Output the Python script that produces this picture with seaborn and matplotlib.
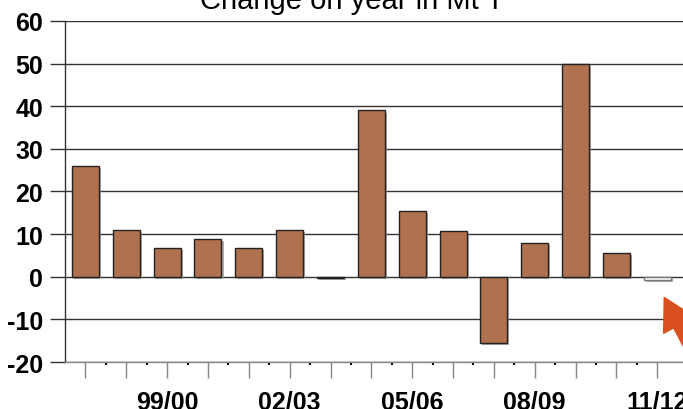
import matplotlib
matplotlib.use("Agg")
import matplotlib.pyplot as plt
from matplotlib import patheffects
from matplotlib.patches import FancyArrowPatch
import seaborn as sns
import pandas as pd

# 데이터
seasons = ["97/98", "98/99", "99/00", "00/01", "01/02", "02/03", "03/04", "04/05",
           "05/06", "06/07", "07/08", "08/09", "09/10", "10/11", "11/12"]
change_mt = [26, 11, 6.8, 8.8, 6.8, 11, -0.3, 39, 15.5, 10.8, -15.6, 8, 50, 5.6, -0.8]
shown_labels = ["99/00", "02/03", "05/06", "08/09", "11/12"]
y_ticks = [-20, -10, 0, 10, 20, 30, 40, 50, 60]

bar_colors = ["#B0714F"] * (len(seasons) - 1) + ["white"]

sns.set_theme(style="white")
plt.rcParams["font.family"] = ["Liberation Sans", "DejaVu Sans"]

df = pd.DataFrame({"season": seasons, "change": change_mt})

fig = plt.figure(figsize=(6.83, 4.10), dpi=100)
ax = fig.add_axes([0.0952, 0.1146, 0.9048, 0.832])

sns.barplot(data=df, x="season", y="change", hue="season", palette=bar_colors,
            legend=False, width=0.66, saturation=1, edgecolor="#222222",
            linewidth=1, ax=ax)

# 막대 그림자
for i, p in enumerate(ax.patches):
    p.set_path_effects([patheffects.SimplePatchShadow(offset=(1.5, -1.5), shadow_rgbFace="#999999", alpha=0.8),
                        patheffects.Normal()])
    if i == len(seasons) - 1:
        p.set_edgecolor("#777777")

ax.set_xlim(-0.5, 14.63)
ax.set_ylim(-20, 60)
ax.set_yticks(y_ticks)
ax.set_yticklabels([str(v) for v in y_ticks], fontweight="bold", fontsize=18, color="black")
ax.yaxis.grid(True, color="#333333", lw=1)
ax.set_axisbelow(True)

ax.set_xticks(range(len(seasons)))
ax.set_xticklabels([s if s in shown_labels else "" for s in seasons],
                   fontweight="bold", fontsize=18, color="black")
ax.set_xticks([i + 0.5 for i in range(len(seasons) - 1)], minor=True)

ax.tick_params(axis="y", which="major", left=True, length=10.8, width=1,
               color="#333333", direction="out", pad=5)
ax.tick_params(axis="x", which="major", bottom=True, length=11.5, width=1,
               color="#888888", direction="out", pad=8)
ax.tick_params(axis="x", which="minor", bottom=True, length=2.5, width=1.5,
               color="black", direction="out")

ax.set_xlabel("")
ax.set_ylabel("")
for side in ["top", "right"]:
    ax.spines[side].set_visible(False)
ax.spines["left"].set_color("#333333")
ax.spines["left"].set_linewidth(1)
ax.spines["bottom"].set_color("#888888")
ax.spines["bottom"].set_linewidth(1)

fig.text(352 / 683, 401 / 410, "Change on year in Mt T", ha="center",
         va="baseline", fontsize=21, color="black")

# 주석 화살표
arrow = FancyArrowPatch(posA=(1.0205, 0.122), posB=(0.9707, 0.278), transform=fig.transFigure,
                        arrowstyle="simple,head_length=0.9,head_width=1.0,tail_width=0.35",
                        mutation_scale=25, color="#D9501E", clip_on=False)
fig.add_artist(arrow)

fig.savefig("out.png", dpi=100)
plt.close()
